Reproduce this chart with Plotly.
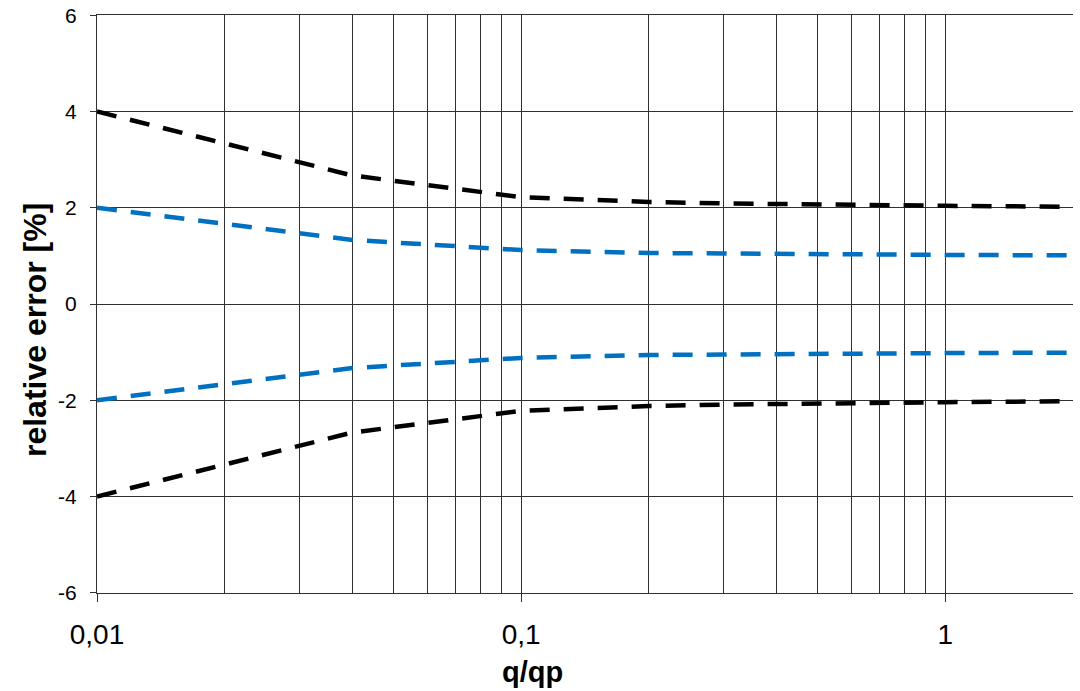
import plotly.graph_objects as go

q = [0.01, 0.04, 0.1, 0.15, 0.2, 0.3, 0.5, 1.0, 2.0]
outer_upper = [4.0, 2.67, 2.22, 2.15, 2.12, 2.09, 2.06, 2.04, 2.02]
inner_upper = [2.0, 1.33, 1.12, 1.08, 1.06, 1.05, 1.03, 1.02, 1.01]
outer_lower = [-v for v in outer_upper]
inner_lower = [-v for v in inner_upper]

major_ticks = [0.01, 0.1, 1]
major_labels = ["0,01", "0,1", "1"]
minor_ticks = [0.02, 0.03, 0.04, 0.05, 0.06, 0.07, 0.08, 0.09,
               0.2, 0.3, 0.4, 0.5, 0.6, 0.7, 0.8, 0.9, 2.0]
y_ticks = [-6, -4, -2, 0, 2, 4, 6]
y_labels = ["-6", "-4", "-2", "0", "2", "4", "6"]

BLACK = "#000000"
BLUE = "#0070C0"
GRID = "#303030"
DASH = "20px,14px"
FONT = "Liberation Sans, Arial, sans-serif"

fig = go.Figure()
for ys, col in [(outer_upper, BLACK), (inner_upper, BLUE),
                (inner_lower, BLUE), (outer_lower, BLACK)]:
    fig.add_trace(go.Scatter(x=q, y=ys, mode="lines",
                             line=dict(color=col, width=4.5, dash=DASH),
                             showlegend=False, hoverinfo="skip"))

fig.update_layout(
    width=1080, height=691,
    margin=dict(l=97, r=7, t=15, b=98, autoexpand=False),
    paper_bgcolor="white", plot_bgcolor="white",
    font=dict(family=FONT, color="#000000"),
    xaxis=dict(
        type="log", range=[-2, 0.30103], automargin=False,
        tickmode="array", tickvals=major_ticks, ticktext=major_labels,
        ticks="outside", ticklen=8, tickwidth=1, tickcolor=GRID,
        tickfont=dict(size=28, color="#000000"),
        ticklabelstandoff=8,
        showgrid=True, gridcolor=GRID, gridwidth=1,
        showline=True, mirror=True, linecolor=GRID, linewidth=1,
        zeroline=False,
        minor=dict(tickmode="array", tickvals=minor_ticks, showgrid=True,
                   gridcolor=GRID, gridwidth=1, ticks=""),
    ),
    yaxis=dict(
        range=[-6.004, 6.004], automargin=False,
        tickmode="array", tickvals=y_ticks, ticktext=y_labels,
        ticks="outside", ticklen=6, tickwidth=1, tickcolor=GRID,
        tickfont=dict(size=21, color="#000000"),
        ticklabelstandoff=9, ticklabeloverflow="allow",
        showgrid=True, gridcolor=GRID, gridwidth=1,
        showline=True, linecolor=GRID, linewidth=1,
        zeroline=False,
    ),
    annotations=[
        dict(text="<b>q/qp</b>", xref="paper", yref="paper",
             x=0.4457, y=-0.1367, xanchor="center", yanchor="middle",
             showarrow=False, font=dict(size=29, color="#000000", family=FONT)),
        dict(text="<b>relative error [%]</b>", xref="paper", yref="paper",
             x=-0.0635, y=0.455, xanchor="center", yanchor="middle",
             textangle=-90, showarrow=False,
             font=dict(size=32, color="#000000", family=FONT)),
    ],
)

fig.write_html("out.html",
               config={"displayModeBar": False},
               post_script="document.body.style.margin='0';document.body.style.overflow='hidden';")
